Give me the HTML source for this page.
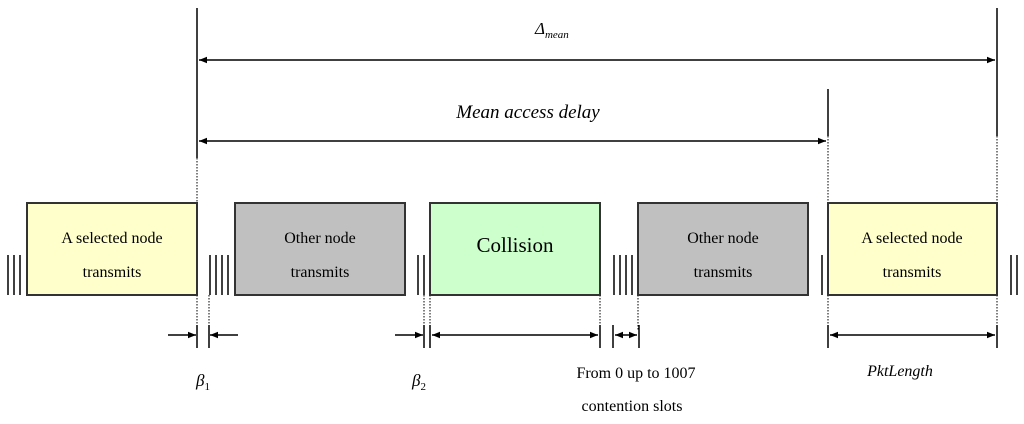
<!DOCTYPE html>
<html><head><meta charset="utf-8"><style>
html,body{margin:0;padding:0;background:#fff;}
svg text{font-family:"Liberation Serif",serif;fill:#000;}
</style></head><body>
<svg width="1024" height="419" viewBox="0 0 1024 419" xmlns="http://www.w3.org/2000/svg">
<defs>
<marker id="a" viewBox="0 0 10 10" refX="10" refY="5" markerWidth="8" markerHeight="8" orient="auto-start-reverse" markerUnits="userSpaceOnUse"><path d="M0,1 L10,5 L0,9 z" fill="#000"/></marker>
</defs>
<g stroke="#000" stroke-width="1.5">
<!-- top verticals -->
<line x1="197" y1="8" x2="197" y2="158"/>
<line x1="828" y1="89" x2="828" y2="136"/>
<line x1="997" y1="8" x2="997" y2="136"/>
</g>
<g stroke="#000" stroke-width="1" stroke-dasharray="1.5,1.5">
<line x1="197" y1="158" x2="197" y2="203"/>
<line x1="828" y1="136" x2="828" y2="203"/>
<line x1="997" y1="136" x2="997" y2="203"/>
<line x1="197" y1="295" x2="197" y2="330"/>
<line x1="209" y1="295" x2="209" y2="330"/>
<line x1="424" y1="295" x2="424" y2="330"/>
<line x1="430" y1="295" x2="430" y2="330"/>
<line x1="600" y1="295" x2="600" y2="330"/>
<line x1="638" y1="295" x2="638" y2="330"/>
<line x1="828" y1="295" x2="828" y2="330"/>
<line x1="997" y1="295" x2="997" y2="330"/>
</g>
<g stroke="#000" stroke-width="1.5" fill="none">
<line x1="199" y1="60" x2="995" y2="60" marker-start="url(#a)" marker-end="url(#a)"/>
<line x1="199" y1="141" x2="826" y2="141" marker-start="url(#a)" marker-end="url(#a)"/>
</g>
<!-- boxes -->
<g stroke="#333" stroke-width="2">
<rect x="27" y="203" width="170" height="92" fill="#ffffcc"/>
<rect x="235" y="203" width="170" height="92" fill="#c0c0c0"/>
<rect x="430" y="203" width="170" height="92" fill="#ccffcc"/>
<rect x="638" y="203" width="170" height="92" fill="#c0c0c0"/>
<rect x="828" y="203" width="169" height="92" fill="#ffffcc"/>
</g>
<!-- slot ticks -->
<g stroke="#000" stroke-width="1.5">
<line x1="8" y1="255" x2="8" y2="295"/><line x1="14" y1="255" x2="14" y2="295"/><line x1="20" y1="255" x2="20" y2="295"/>
<line x1="210" y1="255" x2="210" y2="295"/><line x1="216" y1="255" x2="216" y2="295"/><line x1="222" y1="255" x2="222" y2="295"/><line x1="228" y1="255" x2="228" y2="295"/>
<line x1="418" y1="255" x2="418" y2="295"/><line x1="424" y1="255" x2="424" y2="295"/>
<line x1="614" y1="255" x2="614" y2="295"/><line x1="620" y1="255" x2="620" y2="295"/><line x1="626" y1="255" x2="626" y2="295"/><line x1="632" y1="255" x2="632" y2="295"/>
<line x1="822" y1="255" x2="822" y2="295"/>
<line x1="1011" y1="255" x2="1011" y2="295"/><line x1="1017" y1="255" x2="1017" y2="295"/>
<!-- dim verticals -->
<line x1="197" y1="325" x2="197" y2="348"/><line x1="209" y1="325" x2="209" y2="348"/>
<line x1="424" y1="325" x2="424" y2="348"/><line x1="430" y1="325" x2="430" y2="348"/>
<line x1="600" y1="325" x2="600" y2="348"/>
<line x1="613" y1="325" x2="613" y2="348"/><line x1="639" y1="325" x2="639" y2="348"/>
<line x1="828" y1="325" x2="828" y2="348"/><line x1="997" y1="325" x2="997" y2="348"/>
</g>
<g stroke="#000" stroke-width="1.5" fill="none">
<line x1="168" y1="335" x2="196" y2="335" marker-end="url(#a)"/>
<line x1="238" y1="335" x2="210" y2="335" marker-end="url(#a)"/>
<line x1="395" y1="335" x2="423" y2="335" marker-end="url(#a)"/>
<line x1="432" y1="335" x2="598" y2="335" marker-start="url(#a)" marker-end="url(#a)"/>
<line x1="615" y1="335" x2="637" y2="335" marker-start="url(#a)" marker-end="url(#a)"/>
<line x1="830" y1="335" x2="995" y2="335" marker-start="url(#a)" marker-end="url(#a)"/>
</g>
<!-- labels -->
<g font-size="16" text-anchor="middle">
<text x="112" y="243">A selected node</text><text x="112" y="277">transmits</text>
<text x="320" y="243">Other node</text><text x="320" y="277">transmits</text>
<text x="515" y="252" font-size="21">Collision</text>
<text x="723" y="243">Other node</text><text x="723" y="277">transmits</text>
<text x="912" y="243">A selected node</text><text x="912" y="277">transmits</text>
<text x="636" y="378">From 0 up to 1007</text>
<text x="632" y="411">contention slots</text>
<text x="900" y="376" font-style="italic">PktLength</text>
<text x="528" y="118" font-size="19" font-style="italic">Mean access delay</text>
</g>
<text x="535" y="34" font-size="17" font-style="italic">Δ<tspan font-size="11" dy="4">mean</tspan></text>
<text x="196" y="386" font-size="17" font-style="italic">β<tspan font-size="11" font-style="normal" dy="4">1</tspan></text>
<text x="412" y="386" font-size="17" font-style="italic">β<tspan font-size="11" font-style="normal" dy="4">2</tspan></text>
</svg>
</body></html>
